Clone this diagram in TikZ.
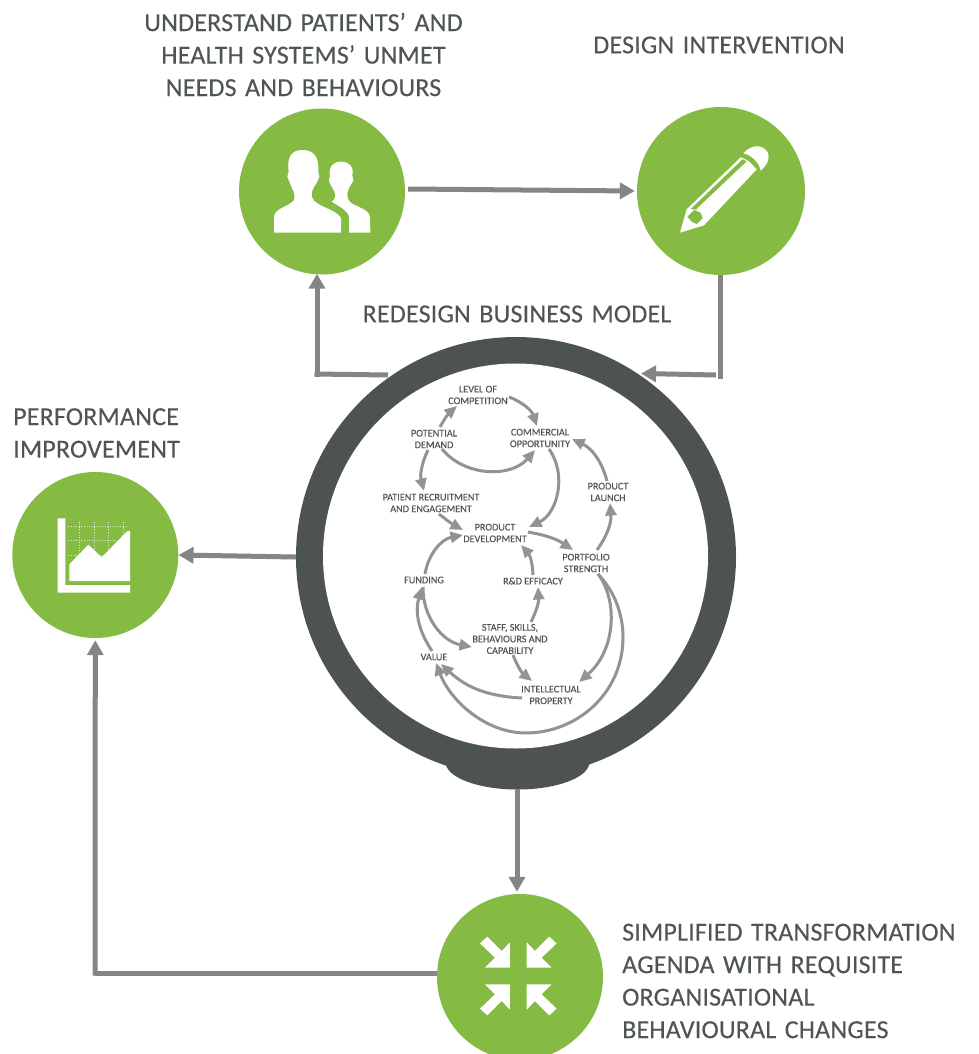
\documentclass[tikz,border=0pt]{standalone}
\usepackage{fontspec}
\setmainfont{Carlito}
\newfontfamily\hdfont[LetterSpace=0.7,WordSpace=1.4,FakeBold=0.15]{Carlito}
\newfontfamily\smfont[FakeBold=0.1]{Carlito}
\usetikzlibrary{arrows.meta}
\definecolor{leaf}{HTML}{85BB43}
\definecolor{ringc}{HTML}{4D5352}
\definecolor{linkc}{HTML}{858585}
\definecolor{flowc}{HTML}{939393}
\definecolor{txtc}{HTML}{4F5554}
\tikzset{
 x=1pt,y=-1pt,
 gcirc/.style={circle,fill=leaf,inner sep=0pt,minimum size=166pt},
 link/.style={draw=linkc,line width=5pt,-{Triangle[length=15pt,width=16pt]}},
 linkplain/.style={draw=linkc,line width=5pt},
 flow/.style={draw=flowc,line width=3pt,-{Triangle[length=12.5pt,width=11pt]}},
 head/.style={text=txtc,font=\hdfont\fontsize{26}{32.5}\selectfont,align=center,inner sep=0pt},
 headl/.style={head,align=left,anchor=west},
 small/.style={text=txtc,font=\smfont\fontsize{10.2}{11.6}\selectfont,align=center,inner sep=0pt},
 icon/.style={fill=white,draw=none},
}
\begin{document}
\begin{tikzpicture}
\path[use as bounding box,clip] (0,0) rectangle (979,1054);
\fill[white] (0,0) rectangle (979,1054);
% circles
\node[gcirc] (users) at (322,191.5) {};
\node[gcirc,minimum size=168pt] (pencil) at (721,191) {};
\node[gcirc] (chart) at (95.3,555) {};
\node[gcirc] (merge) at (520,977) {};
% ring
\fill[ringc] (517.5,762) ellipse [x radius=72,y radius=27.5];
\node[circle,fill=ringc,inner sep=0pt,minimum size=440pt] (ring) at (516,557) {};
\node[circle,fill=white,inner sep=0pt,minimum size=385pt] (inner) at (515.5,556) {};
\node[inner sep=0pt,minimum size=0pt] (stand) at (517,789) {};
% main connectors
\draw[link] ([shift={(3,-2.5)}]users.east) -- ([shift={(-2,0)}]pencil.west);
\coordinate (pc) at (720,379);
\coordinate (ph) at (716,375);
\draw[linkplain] ([xshift=-1pt]pencil.south) -- (pc);
\draw[link] (ph) -- (641,373.5);
\coordinate (lc) at (388,375);
\coordinate (lb) at (317,374);
\draw[linkplain] (lc) -- ([xshift=-2.5pt]lb);
\draw[link] ([yshift=-2.5pt]lb) -- ([shift={(-5,-1)}]users.south);
\draw[link] (ring.west) -- (chart.east);
\draw[link] (stand) -- ([shift={(-3,-2)}]merge.north);
\coordinate (bl) at (95,973);
\draw[linkplain] ([yshift=4pt]merge.west) -- (bl);
\draw[link] ([shift={(0,2.5)}]bl) -- ([yshift=-2pt]chart.south);
% small nodes
\node[small] (loc) at (478,395) {LEVEL OF\\COMPETITION};
\node[small] (pd) at (434,439) {POTENTIAL\\DEMAND};
\node[small] (co) at (540,438) {COMMERCIAL\\OPPORTUNITY};
\node[small] (pre) at (431,503) {PATIENT RECRUITMENT\\AND ENGAGEMENT};
\node[small] (pl) at (608,492) {PRODUCT\\LAUNCH};
\node[small] (pdv) at (495,533) {PRODUCT\\DEVELOPMENT};
\node[small] (ps) at (586,563) {PORTFOLIO\\STRENGTH};
\node[small] (fu) at (424,580) {FUNDING};
\node[small] (rd) at (533,581) {R\&D EFFICACY};
\node[small] (st) at (510,639) {STAFF, SKILLS,\\BEHAVIOURS AND\\CAPABILITY};
\node[small] (va) at (434,657) {VALUE};
\node[small] (ip) at (551,695) {INTELLECTUAL\\PROPERTY};
% flows
\draw[flow] ([shift={(6,-12)}]pd.center) to[bend left=10] ([shift={(-21,11)}]loc.center);
\draw[flow] ([shift={(31,2)}]loc.center) to[bend left=25] ([shift={(-3,-12)}]co.center);
\draw[flow] ([shift={(8,10)}]pd.center) to[bend right=50] ([shift={(-5,12)}]co.center);
\draw[flow] ([shift={(-6,11)}]pd.center) to[bend right=20] ([shift={(-7,-12)}]pre.center);
\draw[flow] ([shift={(8,11)}]pre.center) to[bend right=5] ([shift={(-32,-3)}]pdv.center);
\draw[flow] ([shift={(9,11)}]co.center) to[bend left=50] ([shift={(34,-6)}]pdv.center);
\draw[flow] ([shift={(-1,-11)}]pl.center) to[bend right=25] ([shift={(32,1)}]co.center);
\draw[flow] ([shift={(33,-1)}]pdv.center) to[bend left=12] ([shift={(-13,-13)}]ps.center);
\draw[flow] ([shift={(11,-13)}]ps.center) to[bend right=20] ([shift={(2,11)}]pl.center);
\draw[flow] ([shift={(1,-6)}]fu.center) to[bend left=35] ([shift={(-32,2)}]pdv.center);
\draw[flow] ([shift={(0,-6)}]rd.center) to[bend right=20] ([shift={(26,12)}]pdv.center);
\draw[flow] ([shift={(21,-17)}]st.center) to[bend right=15] ([shift={(5,6)}]rd.center);
\draw[flow] ([shift={(-1,7)}]fu.center) to[bend right=40] ([shift={(-38,8)}]st.center);
\draw[flow] ([shift={(-2,-6)}]va.center) to[bend left=25] ([shift={(-2,7)}]fu.center);
\draw[flow] ([shift={(3,16)}]st.center) to[bend right=15] ([shift={(-19,-14)}]ip.center);
\draw[flow] ([shift={(-29,3)}]ip.center) to[bend left=20] ([shift={(7,7)}]va.center);
\draw[flow] ([shift={(12,11)}]ps.center) .. controls (618,600) and (616,650) .. ([shift={(28,-13)}]ip.center);
\draw[flow] ([shift={(12,11)}]ps.center) .. controls (618,595) and (623,620) .. (623,637) .. controls (623,695) and (575,733) .. (526,733) .. controls (485,733) and (450,700) .. ([shift={(2,6)}]va.center);
% headings
\node[head] (t1) at (303.5,54.5) {UNDERSTAND PATIENTS’ AND\\HEALTH SYSTEMS’ UNMET\\NEEDS AND BEHAVIOURS};
\node[head] (t2) at (719,45) {DESIGN INTERVENTION};
\node[head] (t3) at (517,314) {REDESIGN BUSINESS MODEL};
\node[headl] (t4) at (13,433) {PERFORMANCE\\IMPROVEMENT};
\node[headl] (t5) at (622,981) {SIMPLIFIED TRANSFORMATION\\AGENDA WITH REQUISITE\\ORGANISATIONAL\\BEHAVIOURAL CHANGES};
% icon: people
\begin{scope}[shift={(230,120)},x=0.33333pt,y=-0.33333pt]
\fill[icon] (132,338) -- (132,290) .. controls (135,265) and (170,262) .. (190,243) .. controls (198,232) and (192,215) .. (186,205) -- (178,185) -- (172,170) -- (176,155) .. controls (170,110) and (185,90) .. (218,90) .. controls (250,90) and (268,110) .. (265,155) -- (268,170) -- (262,185) -- (250,205) .. controls (240,225) and (245,240) .. (262,250) .. controls (285,265) and (325,275) .. (333,295) -- (333,338) -- cycle;
\fill[icon] (357,338) -- (357,290) .. controls (352,270) and (325,258) .. (305,245) .. controls (315,240) and (320,225) .. (312,212) -- (302,195) -- (297,182) -- (300,165) .. controls (295,140) and (310,125) .. (333,125) .. controls (358,125) and (372,140) .. (367,165) -- (370,182) -- (362,195) .. controls (350,215) and (345,235) .. (365,250) .. controls (385,262) and (415,268) .. (420,290) -- (421,338) -- cycle;
\end{scope}
% icon: pencil
\begin{scope}[shift={(630,120)},x=0.33333pt,y=-0.33333pt]
\fill[icon] (150,338) -- (170,268) -- (332,112) -- (345,117) -- (358,125) -- (380,148) -- (222,316) -- cycle;
\fill[leaf] (182,267) -- (338,118) -- (350,124) -- (198,268) -- (208,270) -- cycle;
\fill[leaf] (172,290) -- (192,270) -- (212,278) -- (218,295) -- (200,312) -- (185,305) -- cycle;
\fill[icon] (340,100) .. controls (365,72) and (398,72) .. (414,98) .. controls (420,115) and (412,135) .. (392,152) .. controls (388,128) and (365,105) .. (340,100) -- cycle;
\end{scope}
% icon: chart
\begin{scope}[shift={(10,470)},x=0.33333pt,y=-0.33333pt]
\foreach \yy in {168,212,257} \draw[white,line width=0.6pt,dotted,opacity=0.75] (175,\yy) -- (350,\yy);
\foreach \xx in {208,252,296,340} \draw[white,line width=0.6pt,dotted,opacity=0.75] (\xx,155) -- (\xx,270);
\fill[icon] (143,145) -- (166,145) -- (166,345) -- (360,345) -- (360,368) -- (143,368) -- cycle;
\fill[icon] (178,333) -- (178,283) -- (235,224) -- (275,262) -- (352,183) -- (360,183) -- (360,333) -- cycle;
\end{scope}
% icon: four arrows
\foreach \sx/\sy in {1/1,-1/1,1/-1,-1/-1}{
\begin{scope}[shift={(518.3,976)},x=\sx*0.33333pt,y=-\sy*0.33333pt]
\fill[icon] (-25,-101) -- (-25,-25) -- (-100,-25) -- (-70,-55) -- (-115,-98) -- (-93,-118) -- (-50,-75) -- cycle;
\end{scope}}
\end{tikzpicture}
\end{document}
